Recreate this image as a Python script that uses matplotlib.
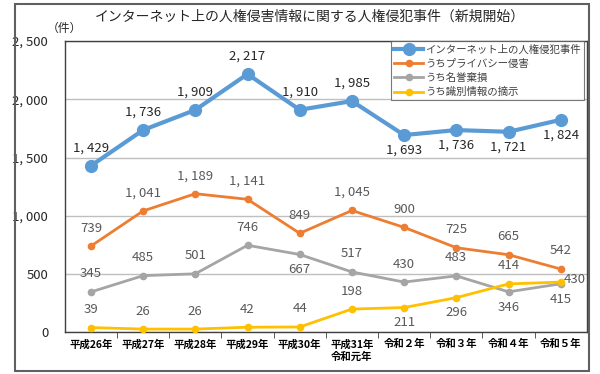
import numpy as np
import matplotlib
matplotlib.use("Agg")
from matplotlib import pyplot as plt, ticker as plticker
from matplotlib.patches import Rectangle

plt.rcParams["font.family"] = ["Noto Sans CJK JP", "DejaVu Sans"]

# data
years = ["平成26年", "平成27年", "平成28年", "平成29年", "平成30年",
         "平成31年\n令和元年", "令和２年", "令和３年", "令和４年", "令和５年"]
internet = [1429, 1736, 1909, 2217, 1910, 1985, 1693, 1736, 1721, 1824]
privacy = [739, 1041, 1189, 1141, 849, 1045, 900, 725, 665, 542]
defamation = [345, 485, 501, 746, 667, 517, 430, 483, 346, 415]
identify = [39, 26, 26, 42, 44, 198, 211, 296, 414, 430]

names = ["インターネット上の人権侵犯事件", "うちプライバシー侵害", "うち名誉棄損", "うち識別情報の摘示"]
colors = ["#5B9BD5", "#ED7D31", "#A5A5A5", "#FFC000"]

# where the value labels go: a = above, b = below, r = right
label_pos = [
    "aaaaaabbbb",
    "aaaaaaaaaa",
    "aaaabaaabb",
    "aaaaaabbar",
]

num_font = ["Liberation Sans Narrow", "Noto Sans CJK JP"]


def fmt(v):
    return f"{v:,}".replace(",", ", ")


def draw_plot():
    fig = plt.figure(figsize=(6.0, 3.74), dpi=100)
    ax = fig.add_axes([0.108, 0.112, 0.870, 0.778])
    x = np.arange(len(years))

    series = [internet, privacy, defamation, identify]
    for i, (vals, name, col) in enumerate(zip(series, names, colors)):
        if i == 0:
            ax.plot(x, vals, color=col, lw=3.0, marker="o", markersize=8.5, label=name, zorder=4)
        else:
            ax.plot(x, vals, color=col, lw=2.0, marker="o", markersize=4.5, label=name, zorder=3)
        tcol = "#262626" if i == 0 else "#595959"
        for xi, v, p in zip(x, vals, label_pos[i]):
            if p == "a":
                off, ha = (0, 13), "center"
            elif p == "b":
                off, ha = (0, -11), "center"
            else:
                off, ha = (2, 2), "left"
            ax.annotate(fmt(v), (xi, v), xytext=off, textcoords="offset points",
                        ha=ha, va="center", fontsize=9.5, color=tcol, family=num_font, zorder=5)

    ax.set_xlim(-0.5, len(years) - 0.5)
    ax.set_ylim(0, 2500)
    ax.yaxis.set_major_locator(plticker.MultipleLocator(500))
    ax.yaxis.set_major_formatter(plticker.FuncFormatter(lambda v, p: fmt(int(v))))
    ax.tick_params(axis="y", length=0, pad=12, labelsize=9.5, labelcolor="#262626")
    for lab in ax.get_yticklabels():
        lab.set_family(num_font)
    ax.grid(axis="y", color="#BFBFBF", lw=1.0)
    ax.set_axisbelow(True)

    ax.set_xticks(x)
    ax.set_xticklabels(years, fontsize=7.5, fontweight="bold", linespacing=1.3)
    ax.set_xticks(np.arange(0.5, len(years) - 1), minor=True)
    ax.tick_params(axis="x", which="major", length=0, pad=5)
    ax.tick_params(axis="x", which="minor", length=4, color="#404040", direction="out")
    for sp in ax.spines.values():
        sp.set_color("#404040")
        sp.set_linewidth(1.0)

    leg = ax.legend(loc="upper right", bbox_to_anchor=(0.995, 1.0), borderaxespad=0,
                    fontsize=7.5, frameon=True, fancybox=False, handlelength=2.8,
                    handletextpad=0.2, labelspacing=0.4, borderpad=0.3)
    leg.get_frame().set_edgecolor("#595959")
    leg.get_frame().set_linewidth(0.8)
    for t in leg.get_texts():
        t.set_color("#404040")

    fig.text(0.517, 0.955, "インターネット上の人権侵害情報に関する人権侵犯事件（新規開始）",
             ha="center", va="center", fontsize=10, color="#262626")
    fig.text(0.108, 0.925, "（件）", ha="center", va="center", fontsize=8.5, color="#262626")

    fig.patches.append(Rectangle((0.025, 0.008), 0.957, 0.981, transform=fig.transFigure,
                                 fill=False, edgecolor="#606060", lw=1.5))
    return fig


def save_plot():
    fig = draw_plot()
    fig.savefig("out.png", dpi=100)
    return


if __name__ == "__main__":
    save_plot()
